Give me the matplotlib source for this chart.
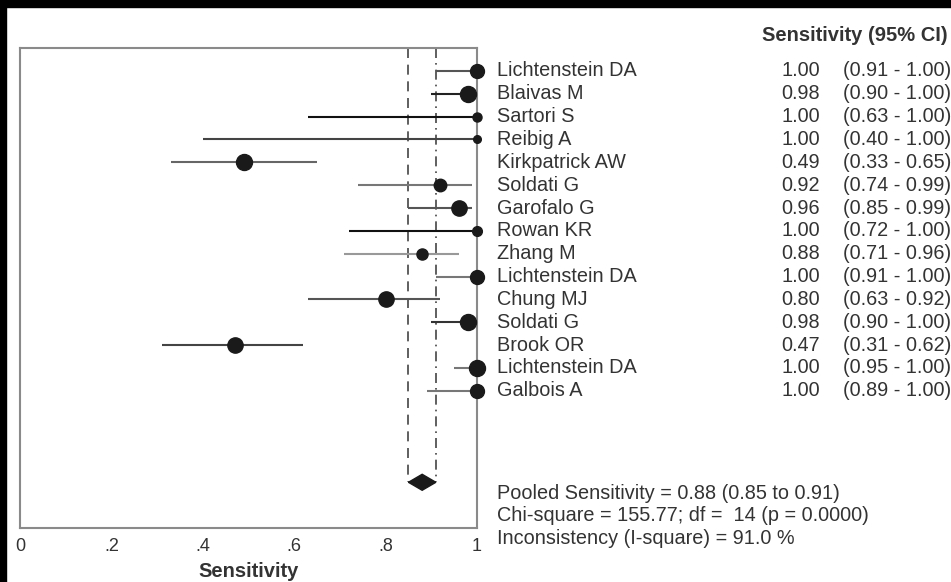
import matplotlib
matplotlib.use('Agg')
import matplotlib.pyplot as plt
from matplotlib.patches import Rectangle, Polygon

plt.rcParams['font.family'] = ['Liberation Sans', 'DejaVu Sans']

# study data
studies = ['Lichtenstein DA', 'Blaivas M', 'Sartori S', 'Reibig A', 'Kirkpatrick AW',
           'Soldati G', 'Garofalo G', 'Rowan KR', 'Zhang M', 'Lichtenstein DA',
           'Chung MJ', 'Soldati G', 'Brook OR', 'Lichtenstein DA', 'Galbois A']
sens = [1.00, 0.98, 1.00, 1.00, 0.49, 0.92, 0.96, 1.00, 0.88, 1.00, 0.80, 0.98, 0.47, 1.00, 1.00]
ci_low = [0.91, 0.90, 0.63, 0.40, 0.33, 0.74, 0.85, 0.72, 0.71, 0.91, 0.63, 0.90, 0.31, 0.95, 0.89]
ci_high = [1.00, 1.00, 1.00, 1.00, 0.65, 0.99, 0.99, 1.00, 0.96, 1.00, 0.92, 1.00, 0.62, 1.00, 1.00]
# marker size (study weight) and CI line shade
weights = [10, 11.5, 6.5, 5.5, 11.5, 9, 11, 7, 8, 10, 11, 11.5, 11, 11.5, 10]
line_colors = ['#555555', '#222222', '#111111', '#444444', '#666666', '#777777', '#555555',
               '#111111', '#999999', '#777777', '#555555', '#333333', '#444444', '#777777', '#777777']

pooled = 0.88
pooled_low = 0.85
pooled_high = 0.91
stats_lines = ['Pooled Sensitivity = 0.88 (0.85 to 0.91)',
               'Chi-square = 155.77; df =  14 (p = 0.0000)',
               'Inconsistency (I-square) = 91.0 %']

W, H = 951, 582
fig = plt.figure(figsize=(W / 100, H / 100), dpi=100)
fig.patch.set_facecolor('white')
ax = fig.add_axes([20 / W, (H - 528) / H, 457 / W, 480 / H])

rows = list(range(1, len(studies) + 1))
pooled_row = 19

# pooled CI reference lines
ax.vlines(pooled_low, 0, pooled_row, colors='#444444', linestyles=(0, (6, 4)), lw=1.2)
ax.vlines(pooled_high, 0, pooled_row, colors='#444444', linestyles=(0, (6, 3, 1, 3)), lw=1.2)
ax.hlines(pooled_row, pooled_low, pooled_high, colors='#444444', lw=1.2)

for y, s, lo, hi, w, c in zip(rows, sens, ci_low, ci_high, weights, line_colors):
    ax.plot([lo, hi], [y, y], color=c, lw=1.5, solid_capstyle='butt', zorder=2)
    ax.plot(s, y, 'o', color='#1a1a1a', markersize=w, zorder=3, clip_on=False)

diamond = Polygon([[pooled_low, pooled_row], [pooled, pooled_row - 0.35],
                   [pooled_high, pooled_row], [pooled, pooled_row + 0.35]],
                  closed=True, color='#1a1a1a', zorder=4)
ax.add_patch(diamond)

ax.set_xlim(0, 1)
ax.set_ylim(21, 0)
ax.set_yticks([])
ax.set_xticks([0, 0.2, 0.4, 0.6, 0.8, 1.0])
ax.set_xticklabels(['0', '.2', '.4', '.6', '.8', '1'])
ax.tick_params(axis='x', length=0, pad=7, labelsize=13, labelcolor='#333333')
for sp in ax.spines.values():
    sp.set_color('#8a8a8a')
    sp.set_linewidth(1.5)
ax.set_xlabel('Sensitivity', fontsize=14.5, fontweight='bold', color='#333333', labelpad=5)

# right-hand table
tc = '#333333'
fs = 14.3
ax.text(1.624, -0.55, 'Sensitivity (95% CI)', fontsize=14.5, fontweight='bold',
        color=tc, va='center', ha='left', clip_on=False)
for y, name, s, lo, hi in zip(rows, studies, sens, ci_low, ci_high):
    ax.text(1.044, y, name, fontsize=fs, color=tc, va='center', ha='left', clip_on=False)
    ax.text(1.751, y, f'{s:.2f}', fontsize=fs, color=tc, va='center', ha='right', clip_on=False)
    ax.text(1.801, y, f'({lo:.2f} - {hi:.2f})', fontsize=fs, color=tc, va='center',
            ha='left', clip_on=False)

for i, line in enumerate(stats_lines):
    ax.text(1.044, 19.47 + i, line, fontsize=fs, color=tc, va='center', ha='left', clip_on=False)

# black frame edges of the original screenshot
fig.patches.append(Rectangle((0, 1 - 7 / H), 1, 7 / H, transform=fig.transFigure,
                             color='black', zorder=10))
fig.patches.append(Rectangle((0, 0), 6 / W, 1, transform=fig.transFigure,
                             color='black', zorder=10))

fig.savefig('out.png', dpi=100)
